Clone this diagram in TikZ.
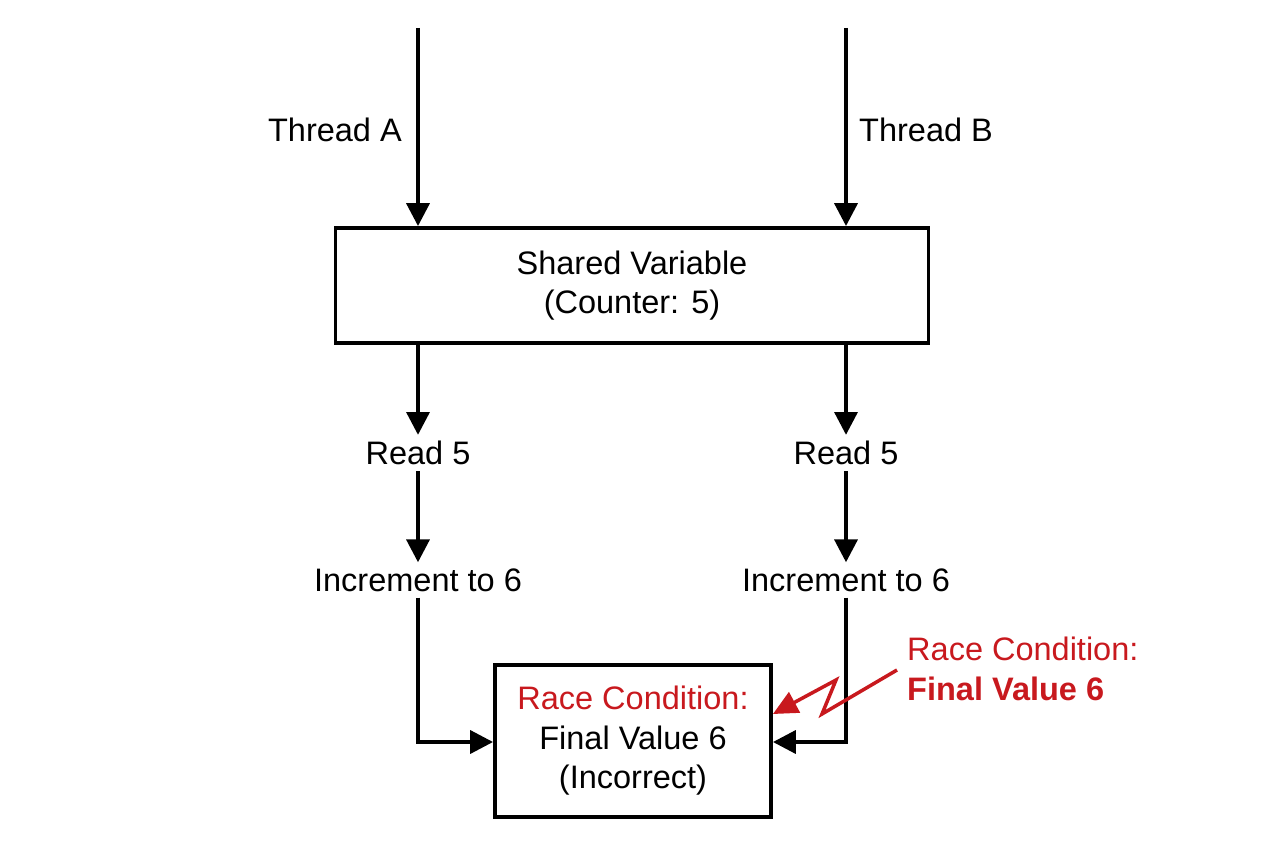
\documentclass[tikz,border=0pt]{standalone}
\usepackage{fontspec}
\setmainfont{Liberation Sans}
\usetikzlibrary{arrows.meta}
\definecolor{rc}{RGB}{200,25,30}
\begin{document}
\begin{tikzpicture}[x=0.02cm,y=-0.02cm,
  every node/.style={font=\fontsize{18.5}{22.5}\selectfont},
  ln/.style={line width=2.2pt,-{Triangle[length=13pt,width=13pt]}},
  bx/.style={draw,line width=2.2pt}]
\useasboundingbox (0,0) rectangle (1264,848);
\coordinate (ta) at (418,28);
\coordinate (tb) at (846,28);
\node[bx,minimum width=593*0.02cm,minimum height=115*0.02cm,align=center] (sv) at (632,285.5) {Shared Variable\\[0pt](Counter: 5)};
\node[anchor=east] (la) at (408,130) {Thread A};
\node[anchor=west] (lb) at (853,130) {Thread B};
\node (ra) at (418,453) {Read 5};
\node (rb) at (846,453) {Read 5};
\node (ia) at (418,580) {Increment to 6};
\node (ib) at (846,580) {Increment to 6};
\node[bx,minimum width=276*0.02cm,minimum height=152*0.02cm,align=center] (fv) at (633,741) {\textcolor{rc}{Race Condition:}\\Final Value 6\\(Incorrect)};
\node[align=left,text=rc,anchor=west] (rl) at (901,669) {Race Condition:\\\textbf{Final Value 6}};
\draw[ln] (ta) -- (ta|-sv.north);
\draw[ln] (tb) -- (tb|-sv.north);
\draw[ln] (ta|-sv.south) -- (ra);
\draw[ln] (tb|-sv.south) -- (rb);
\draw[ln] (ra) -- (ia);
\draw[ln] (rb) -- (ib);
\draw[ln] (ia.south) |- (fv.west|-0,742);
\draw[ln] (ib.south) |- (fv.east|-0,742);
\draw[rc,line width=2pt,-{Triangle[length=14pt,width=13pt]}] (897,670) -- (822,714) -- (836,680) -- (fv.east|-0,714);
\end{tikzpicture}
\end{document}
